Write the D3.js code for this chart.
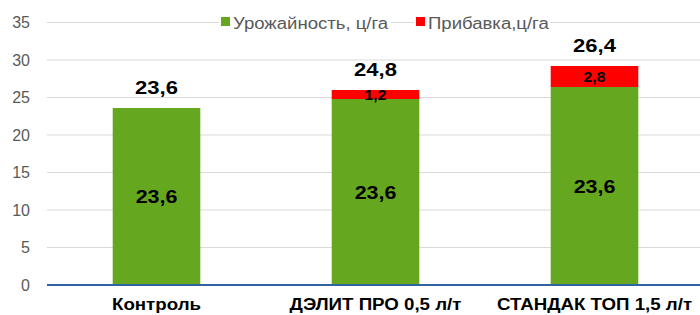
<!DOCTYPE html>
<html>
<head>
<meta charset="utf-8">
<script src="https://cdn.jsdelivr.net/npm/d3@7/dist/d3.min.js"></script>
<style>
	body { margin: 0; background: #fff; }
	text { font-family: "Liberation Sans", Arial, sans-serif; }
</style>
</head>
<body>
<div class="chart"></div>
<script>
	var categories = ["Контроль", "ДЭЛИТ ПРО 0,5 л/т", "СТАНДАК ТОП 1,5 л/т"];
	var yieldValues = [23.6, 24.8, 26.4];
	var gainValues = [0, 1.2, 2.8];
	var innerLabels = ["23,6", "23,6", "23,6"];
	var seriesNames = ["Урожайность, ц/га", "Прибавка,ц/га"];
	var yTicks = [0, 5, 10, 15, 20, 25, 30, 35];

	var W = 700, H = 315;
	var colors = ["#65A820", "#FF0000"];
	var STRETCH = 1.16; // text in the picture is a bit wider than Arial

	var svg = d3.select(".chart").append("svg")
		.attr("width", W)
		.attr("height", H);

	var x = d3.scaleBand()
		.domain(categories)
		.range([47, 704])
		.paddingInner(0.6)
		.paddingOuter(0.3);

	var y = d3.scaleLinear()
		.domain([0, 35])
		.range([285, 22.5]);

	var fmt = function (v) { return String(v).replace(".", ","); };
	var cx = function (c) { return x(c) + x.bandwidth() / 2; };
	var place = function (px, py, sx) {
		return "translate(" + px + "," + py + ") scale(" + sx + ",1)";
	};

	// gridlines
	svg.append("g").selectAll("line").data(yTicks.slice(1)).enter().append("line")
		.attr("x1", 47).attr("x2", W)
		.attr("y1", function (d) { return y(d); })
		.attr("y2", function (d) { return y(d); })
		.attr("stroke", "#d9d9d9")
		.attr("stroke-width", 1);

	// y axis labels
	var yAxis = d3.axisLeft(y).tickValues(yTicks).tickSize(0).tickPadding(0);
	var yg = svg.append("g").attr("transform", "translate(30,0)").call(yAxis);
	yg.select(".domain").remove();
	yg.selectAll("text")
		.attr("fill", "#595959")
		.style("font-size", "16px")
		.style("font-family", "Liberation Sans, Arial, sans-serif");

	// stacked data
	var rows = categories.map(function (c, i) {
		return {cat: c, yield: yieldValues[i], gain: gainValues[i], inner: innerLabels[i]};
	});
	var stack = d3.stack().keys(["yield", "gain"])(rows);

	svg.append("g").selectAll("g").data(stack).enter().append("g")
		.attr("fill", function (d, i) { return colors[i]; })
		.selectAll("rect").data(function (d) { return d; }).enter().append("rect")
		.attr("x", function (d) { return x(d.data.cat); })
		.attr("width", x.bandwidth())
		.attr("y", function (d) { return y(d[1]); })
		.attr("height", function (d) { return y(d[0]) - y(d[1]); });

	// x axis line
	svg.append("line")
		.attr("x1", 47).attr("x2", W)
		.attr("y1", y(0)).attr("y2", y(0))
		.attr("stroke", "#2F64A0")
		.attr("stroke-width", 2);

	// inner labels in green
	svg.append("g").selectAll("text").data(rows).enter().append("text")
		.attr("transform", function (d) { return place(cx(d.cat), (y(0) + y(d.yield)) / 2 + 6.5, STRETCH); })
		.attr("text-anchor", "middle")
		.style("font-size", "18.5px")
		.style("font-weight", "bold")
		.text(function (d) { return d.inner; });

	// gain labels in red
	svg.append("g").selectAll("text").data(rows.filter(function (d) { return d.gain > 0; })).enter().append("text")
		.attr("transform", function (d) { return place(cx(d.cat), (y(d.yield) + y(d.yield + d.gain)) / 2 + 5, 1.12); })
		.attr("text-anchor", "middle")
		.style("font-size", "14px")
		.style("font-weight", "bold")
		.text(function (d) { return fmt(d.gain); });

	// top labels
	svg.append("g").selectAll("text").data(rows).enter().append("text")
		.attr("transform", function (d) { return place(cx(d.cat), y(d.yield + d.gain) - 14, STRETCH); })
		.attr("text-anchor", "middle")
		.style("font-size", "19px")
		.style("font-weight", "bold")
		.text(function (d) { return fmt(d.yield); });

	// category labels
	svg.append("g").selectAll("text").data(categories).enter().append("text")
		.attr("transform", function (d) { return place(cx(d), 310, 1.1); })
		.attr("text-anchor", "middle")
		.style("font-size", "17px")
		.style("font-weight", "bold")
		.text(function (d) { return d; });

	// legend
	var legendX = [221, 416];
	var legendW = [172, 136];
	var legend = svg.append("g").selectAll("g").data(seriesNames).enter().append("g")
		.attr("transform", function (d, i) { return "translate(" + legendX[i] + ",0)"; });
	legend.append("rect")
		.attr("x", -2).attr("y", 14)
		.attr("height", 18)
		.attr("width", function (d, i) { return legendW[i]; })
		.attr("fill", "#fff");
	legend.append("rect")
		.attr("x", 0).attr("y", 17)
		.attr("width", 9).attr("height", 9)
		.attr("fill", function (d, i) { return colors[i]; });
	legend.append("text")
		.attr("transform", place(12, 29, STRETCH))
		.attr("fill", "#595959")
		.style("font-size", "16px")
		.text(function (d) { return d; });
</script>
</body>
</html>
